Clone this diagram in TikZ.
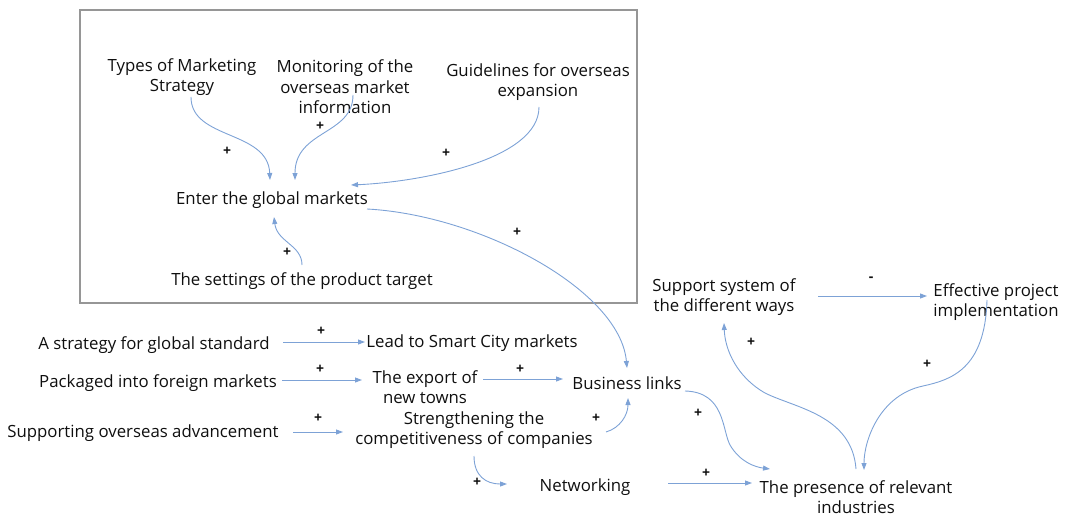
\documentclass[tikz,border=0pt]{standalone}
\usepackage{fontspec}
\setmainfont{Open Sans}
\usetikzlibrary{arrows.meta}
\definecolor{arrc}{RGB}{125,162,214}
\definecolor{boxc}{RGB}{150,150,150}
\definecolor{txt}{RGB}{15,15,15}
\begin{document}
\begin{tikzpicture}[x=1pt,y=-1pt,
  lbl/.style={font=\fontsize{16.8}{20.5}\selectfont, text=txt, align=center, inner sep=0pt},
  sgn/.style={font=\fontsize{14}{16}\selectfont\bfseries, text=txt, inner sep=0pt},
  arr/.style={draw=arrc, line width=0.9pt, -{Triangle[length=7pt,width=5pt]}}]
\useasboundingbox (0,0) rectangle (1067,516);
\draw[boxc, line width=1.3pt] (80,10) rectangle (637,303);

\node[lbl] (types) at (182,77) {Types of Marketing\\Strategy};
\node[lbl] (monit) at (345,87) {Monitoring of the\\overseas market\\information};
\node[lbl] (guide) at (538,82) {Guidelines for overseas\\expansion};
\node[lbl] (enter) at (272,200) {Enter the global markets};
\node[lbl] (sett) at (302,281) {The settings of the product target};
\node[lbl] (strat) at (154,345) {A strategy for global standard};
\node[lbl] (lead) at (472,343) {Lead to Smart City markets};
\node[lbl] (pack) at (158,383) {Packaged into foreign markets};
\node[lbl] (export) at (425,387) {The export of\\new towns};
\node[lbl] (busi) at (627,383) {Business links};
\node[lbl] (supp) at (143,433) {Supporting overseas advancement};
\node[lbl] (stren) at (474,430) {Strengthening the\\competitiveness of companies};
\node[lbl] (netw) at (585,487) {Networking};
\node[lbl] (pres) at (856,497) {The presence of relevant\\industries};
\node[lbl] (suppsys) at (724,297) {Support system of\\the different ways};
\node[lbl] (effect) at (996,302) {Effective project\\implementation};

% signs
\node[sgn] (s1) at (227,151) {+};
\node[sgn] (s2) at (320,126) {+};
\node[sgn] (s3) at (446,153) {+};
\node[sgn] (s4) at (287,252) {+};
\node[sgn] (s5) at (517,232) {+};
\node[sgn] (s6) at (321,331) {+};
\node[sgn] (s7) at (320,369) {+};
\node[sgn] (s8) at (520,369) {+};
\node[sgn] (s9) at (318,418) {+};
\node[sgn] (s10) at (596,418) {+};
\node[sgn] (s11) at (477,482) {+};
\node[sgn] (s12) at (698,413) {+};
\node[sgn] (s13) at (706,473) {+};
\node[sgn] (s14) at (751,342) {+};
\node[sgn] (s15) at (871,279) {-};
\node[sgn] (s16) at (927,364) {+};

% connectors
\draw[arr] ([shift={(9,20)}]types.center) .. controls (191,140) and (268,130) .. ([shift={(-2,-20)}]enter.center);
\draw[arr] ([shift={(8,8)}]monit.center) .. controls (353,135) and (295,130) .. ([shift={(23,-20)}]enter.center);
\draw[arr] ([shift={(1,25)}]guide.center) .. controls (539,160) and (420,182) .. ([shift={(79,-15)}]enter.center);
\draw[arr] ([shift={(0,-16)}]sett.center) .. controls (302,245) and (277,242) .. ([shift={(2,17)}]enter.center);
\draw[arr] ([shift={(95,9)}]enter.center) .. controls (480,215) and (620,290) .. ([shift={(0,-15)}]busi.center);

\draw[arr] ([shift={(129,-3)}]strat.center) -- ([shift={(-107,-1)}]lead.center);
\draw[arr] ([shift={(124,-3)}]pack.center) -- ([shift={(-63,-7)}]export.center);
\draw[arr] ([shift={(58,-8)}]export.center) -- ([shift={(-64,-4)}]busi.center);
\draw[arr] ([shift={(150,-1)}]supp.center) -- ([shift={(-131,2)}]stren.center);
\draw[arr] ([shift={(132,2)}]stren.center) .. controls (620,428) and (628,415) .. ([shift={(1,15)}]busi.center);
\draw[arr] ([shift={(0,26)}]stren.center) .. controls (474,476) and (486,484) .. ([shift={(-78,-3)}]netw.center);

\draw[arr] ([shift={(58,8)}]busi.center) .. controls (725,392) and (722,430) .. (730,445) .. controls (740,462) and (755,467) .. ([shift={(-86,-28)}]pres.center);
\draw[arr] ([shift={(83,-4)}]netw.center) -- ([shift={(-104,-14)}]pres.center);
\draw[arr] ([shift={(0,-28)}]pres.center) .. controls (852,415) and (795,408) .. (765,393) .. controls (737,377) and (725,350) .. ([shift={(0,26)}]suppsys.center);
\draw[arr] ([shift={(94,-1)}]suppsys.center) -- ([shift={(-69,-6)}]effect.center);
\draw[arr] ([shift={(-9,-2)}]effect.center) .. controls (985,370) and (950,380) .. (923,386) .. controls (880,395) and (864,440) .. ([shift={(8,-27)}]pres.center);
\end{tikzpicture}
\end{document}
